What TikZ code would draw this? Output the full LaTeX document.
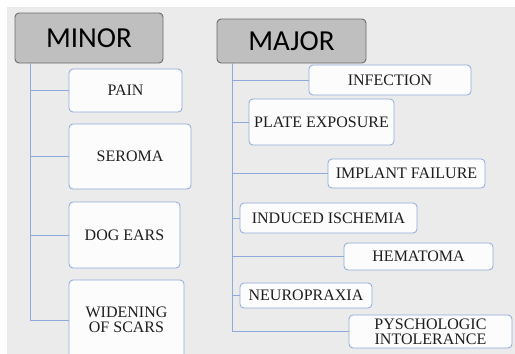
\documentclass[tikz,border=0pt]{standalone}
\usepackage{fontspec}
\setmainfont{Liberation Serif}
\newfontfamily\headfont{Carlito}
\usepackage{xcolor}
\usepackage{tikz}
\usetikzlibrary{calc, positioning}

\definecolor{bggray}{HTML}{EBEBEB}
\definecolor{headfill}{HTML}{BFBFBF}
\definecolor{headline}{HTML}{6B6B6B}
\definecolor{boxline}{HTML}{8EAADB}
\definecolor{boxfill}{HTML}{FCFCFC}
\definecolor{inktext}{HTML}{1E1E1E}

\begin{document}
\begin{tikzpicture}[x=1pt, y=-1pt, font=\fontsize{16}{16}\selectfont]
		\tikzstyle{head} = [draw=headline, fill=headfill, line width=0.9pt, rounded corners=4pt, inner sep=0pt, text=black, font=\fontsize{29}{30}\headfont]
		\tikzstyle{item} = [draw=boxline, fill=boxfill, line width=0.8pt, rounded corners=4pt, inner sep=0pt, align=center, text=inktext]
		\tikzstyle{link} = [draw=boxline, line width=0.8pt]
		
		\useasboundingbox (0, 0) rectangle (515, 354);
		\fill [bggray] (7, 7) rectangle (515, 354);
		
		\node[head, minimum width=148pt, minimum height=50pt]	at (89, 38)		(minor)	{MINOR};
		\node[head, minimum width=149pt, minimum height=44pt]	at (291.5, 41)	(major)	{MAJOR};
		
		\coordinate (mn) at (30, 63);
		\coordinate (mj) at (232, 63);
		
		\node[item, minimum width=113pt, minimum height=43pt]	at (125.5, 90.5)	(pain)		{PAIN};
		\node[item, minimum width=122pt, minimum height=65pt]	at (130, 156.5)		(seroma)	{SEROMA};
		\node[item, minimum width=111pt, minimum height=66pt]	at (124.5, 235)		(dogears)	{DOG EARS};
		\node[item, minimum width=115pt, minimum height=80pt]	at (126.5, 320)		(widening)	{WIDENING\\[-1pt] OF SCARS};
		
		\node[item, minimum width=162pt, minimum height=30pt]	at (390, 80)		(infection)	{INFECTION};
		\node[item, minimum width=145pt, minimum height=46pt]	at (321.5, 122)		(plate)		{PLATE EXPOSURE};
		\node[item, minimum width=157pt, minimum height=29pt]	at (406.5, 173.5)	(implant)	{IMPLANT FAILURE};
		\node[item, minimum width=177pt, minimum height=30pt]	at (328.5, 218)		(ischemia)	{INDUCED ISCHEMIA};
		\node[item, minimum width=149pt, minimum height=27pt]	at (418.5, 256.5)	(hematoma)	{HEMATOMA};
		\node[item, minimum width=132pt, minimum height=25pt]	at (306, 295.5)		(neuro)		{NEUROPRAXIA};
		\node[item, minimum width=163pt, minimum height=33pt]	at (430.5, 331.5)	(psych)		{PYSCHOLOGIC\\[-1pt] INTOLERANCE};
		
		\draw [link] (mn) |- (pain);
		\draw [link] (mn) |- (seroma);
		\draw [link] (mn) |- (dogears);
		\draw [link] (mn) |- (widening);
		
		\draw [link] (mj) |- (infection);
		\draw [link] (mj) |- (plate);
		\draw [link] (mj) |- (implant);
		\draw [link] (mj) |- (ischemia);
		\draw [link] (mj) |- (hematoma);
		\draw [link] (mj) |- (neuro);
		\draw [link] (mj) |- (psych);
		
	\end{tikzpicture}
\end{document}
